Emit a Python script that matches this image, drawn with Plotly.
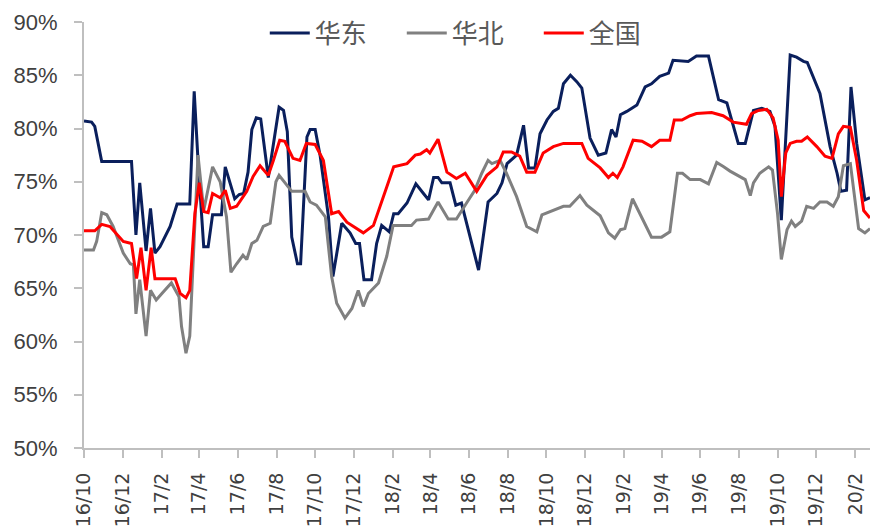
import plotly.graph_objects as go

# 华东 (East China)
east_dates = ["2016-10-01","2016-10-13","2016-10-18","2016-10-29","2016-12-15","2016-12-22","2016-12-28",
"2017-01-07","2017-01-14","2017-01-21","2017-01-29","2017-02-14","2017-02-25","2017-03-17","2017-03-24",
"2017-03-30","2017-04-08","2017-04-15","2017-04-22","2017-05-06","2017-05-12","2017-05-27","2017-06-03",
"2017-06-10","2017-06-17","2017-06-23","2017-06-30","2017-07-07","2017-07-19","2017-08-05","2017-08-12",
"2017-08-18","2017-08-25","2017-09-03","2017-09-08","2017-09-18","2017-09-23","2017-10-01","2017-10-09",
"2017-10-22","2017-10-29","2017-11-12","2017-11-25","2017-12-04","2017-12-10","2017-12-17","2017-12-29",
"2018-01-06","2018-01-14","2018-01-26","2018-02-02","2018-02-09","2018-02-23","2018-03-09","2018-03-21",
"2018-03-29","2018-04-06","2018-04-13","2018-04-19","2018-05-02","2018-05-11","2018-05-20","2018-06-16",
"2018-07-01","2018-07-15","2018-07-23","2018-07-31","2018-08-15","2018-08-26","2018-09-03","2018-09-13",
"2018-09-21","2018-10-02","2018-10-12","2018-10-20","2018-10-28","2018-11-08","2018-11-18","2018-11-26",
"2018-12-09","2018-12-22","2019-01-03","2019-01-12","2019-01-19","2019-01-26","2019-02-05","2019-02-21",
"2019-03-06","2019-03-16","2019-03-29","2019-04-12","2019-04-19","2019-05-13","2019-05-26","2019-06-14",
"2019-06-30","2019-07-13","2019-07-31","2019-08-11","2019-08-24","2019-09-06","2019-09-19","2019-09-27",
"2019-10-07","2019-10-21","2019-10-31","2019-11-11","2019-11-17","2019-12-07","2019-12-23","2020-01-03",
"2020-01-09","2020-01-18","2020-01-25","2020-02-03","2020-02-16","2020-02-24"]
east_values = [80.7,80.6,80.2,76.9,76.9,70.0,74.9,
68.5,72.5,68.3,68.9,70.8,72.9,72.9,83.5,
77.0,68.9,68.9,71.9,71.9,76.4,73.4,73.8,
73.9,75.9,79.9,81.0,80.9,75.4,82.0,81.7,
79.7,69.8,67.3,67.3,79.2,79.9,79.9,77.4,
71.7,66.1,71.1,70.2,69.2,69.2,65.8,65.8,
69.2,70.9,70.3,72.0,72.0,73.0,74.8,73.9,
73.3,75.4,75.4,74.9,74.9,72.8,73.0,66.7,
73.1,73.9,74.9,76.7,77.5,80.3,76.3,76.3,
79.5,80.8,81.6,81.9,84.2,85.0,84.4,83.8,
79.1,77.5,77.7,79.9,79.2,81.3,81.6,82.2,
83.9,84.2,84.9,85.2,86.4,86.3,86.8,86.8,
82.7,82.4,78.6,78.6,81.7,81.9,81.6,80.2,
71.4,86.9,86.7,86.3,86.2,83.3,78.3,75.8,
74.1,74.2,83.9,78.6,73.3,73.5]

# 华北 (North China)
north_dates = ["2016-10-01","2016-10-16","2016-10-21","2016-10-29","2016-11-06","2016-11-16","2016-12-02",
"2016-12-13","2016-12-18","2016-12-22","2016-12-28","2017-01-07","2017-01-14","2017-01-23","2017-02-01",
"2017-02-16","2017-02-28","2017-03-04","2017-03-11","2017-03-17","2017-03-30","2017-04-08","2017-04-22",
"2017-05-04","2017-05-14","2017-05-21","2017-05-30","2017-06-09","2017-06-15","2017-06-23","2017-07-01",
"2017-07-11","2017-07-22","2017-07-31","2017-08-05","2017-08-14","2017-08-25","2017-09-15","2017-09-23",
"2017-10-03","2017-10-17","2017-10-27","2017-11-04","2017-11-17","2017-11-28","2017-12-08","2017-12-16",
"2017-12-24","2018-01-09","2018-01-22","2018-02-01","2018-03-02","2018-03-10","2018-03-29","2018-04-13",
"2018-04-29","2018-05-12","2018-05-28","2018-06-10","2018-06-21","2018-07-01","2018-07-07","2018-07-20",
"2018-07-30","2018-08-15","2018-08-31","2018-09-16","2018-09-24","2018-10-12","2018-10-28","2018-11-07",
"2018-11-23","2018-12-04","2018-12-14","2018-12-25","2019-01-07","2019-01-17","2019-01-26","2019-02-02",
"2019-02-14","2019-02-26","2019-03-16","2019-04-01","2019-04-14","2019-04-26","2019-05-04","2019-05-16",
"2019-06-01","2019-06-14","2019-06-27","2019-07-08","2019-07-18","2019-08-11","2019-08-19","2019-08-24",
"2019-09-03","2019-09-17","2019-09-23","2019-10-01","2019-10-07","2019-10-16","2019-10-23","2019-10-29",
"2019-11-08","2019-11-16","2019-11-27","2019-12-07","2019-12-18","2019-12-28","2020-01-05","2020-01-13",
"2020-01-24","2020-02-06","2020-02-16","2020-02-24"]
north_values = [68.6,68.6,69.4,72.1,71.9,70.8,68.3,
67.3,67.2,62.6,65.8,60.5,64.8,63.9,64.5,
65.5,64.2,61.4,58.9,60.5,77.5,72.3,76.4,
75.0,71.7,66.5,67.3,68.1,67.7,69.2,69.5,
70.8,71.1,75.0,75.6,74.9,74.1,74.1,73.1,
72.8,71.7,66.1,63.6,62.2,63.1,64.8,63.3,
64.5,65.5,68.0,70.9,70.9,71.4,71.5,73.1,
71.5,71.5,73.0,74.2,75.8,77.0,76.7,77.0,
75.8,73.6,70.8,70.3,71.9,72.3,72.7,72.7,
73.7,72.8,72.3,71.8,70.2,69.7,70.5,70.6,
73.4,72.0,69.8,69.8,70.3,75.8,75.8,75.2,
75.2,74.8,76.8,76.4,76.0,75.2,73.7,74.9,
75.8,76.4,76.1,72.0,67.7,70.5,71.3,70.8,
71.3,72.7,72.5,73.1,73.1,72.7,73.6,76.5,
76.7,70.6,70.2,70.6]

# 全国 (National)
nation_dates = ["2016-10-01","2016-10-18","2016-10-29","2016-11-11","2016-12-02","2016-12-15","2016-12-23",
"2016-12-30","2017-01-07","2017-01-15","2017-01-21","2017-02-22","2017-03-02","2017-03-11","2017-03-17",
"2017-03-25","2017-04-01","2017-04-08","2017-04-15","2017-04-22","2017-05-04","2017-05-12","2017-05-20",
"2017-05-30","2017-06-15","2017-06-25","2017-07-06","2017-07-19","2017-07-27","2017-08-06","2017-08-14",
"2017-08-27","2017-09-07","2017-09-17","2017-10-01","2017-10-14","2017-10-27","2017-11-07","2017-11-20",
"2017-12-06","2017-12-16","2018-01-01","2018-01-11","2018-01-22","2018-02-02","2018-02-23","2018-03-08",
"2018-03-16","2018-03-26","2018-03-31","2018-04-13","2018-04-27","2018-05-12","2018-05-26","2018-06-13",
"2018-06-29","2018-07-15","2018-07-25","2018-08-07","2018-08-20","2018-08-31","2018-09-13","2018-09-26",
"2018-10-12","2018-10-28","2018-11-26","2018-12-06","2018-12-25","2019-01-07","2019-01-14","2019-01-21",
"2019-01-30","2019-02-15","2019-03-01","2019-03-16","2019-03-29","2019-04-14","2019-04-21","2019-05-03",
"2019-05-16","2019-05-26","2019-06-19","2019-07-07","2019-07-23","2019-08-13","2019-08-21","2019-09-01",
"2019-09-14","2019-09-24","2019-10-02","2019-10-07","2019-10-14","2019-10-21","2019-10-31","2019-11-08",
"2019-11-17","2019-12-02","2019-12-15","2019-12-26","2020-01-05","2020-01-13","2020-01-24","2020-02-03",
"2020-02-14","2020-02-24"]
nation_values = [70.4,70.4,71.0,70.8,69.4,69.2,65.9,
68.8,64.8,68.8,65.9,65.9,64.5,64.1,64.8,
72.0,74.9,72.2,72.1,73.9,73.5,74.2,72.5,
72.7,74.1,75.5,76.5,75.6,77.0,78.9,78.8,
77.2,77.0,78.6,78.5,77.0,72.0,72.2,71.2,
70.6,70.2,70.9,72.7,74.5,76.4,76.7,77.5,
77.6,78.0,77.7,79.0,75.9,75.3,75.8,74.1,
75.6,76.4,77.8,77.8,77.4,75.9,75.9,77.7,
78.3,78.6,78.6,77.2,76.3,75.4,75.8,75.4,
76.4,78.9,78.8,78.3,78.9,78.9,80.8,80.8,
81.2,81.4,81.5,81.2,80.6,80.4,81.4,81.7,
81.8,81.0,78.9,73.6,77.7,78.6,78.8,78.8,
79.2,78.3,77.4,77.2,79.5,80.2,80.1,77.0,
72.3,71.6]

y_ticks = [50, 55, 60, 65, 70, 75, 80, 85, 90]
y_tick_labels = ["50%", "55%", "60%", "65%", "70%", "75%", "80%", "85%", "90%"]

fig = go.Figure()
fig.add_trace(go.Scatter(x=east_dates, y=east_values, name="华东", mode="lines",
                         line=dict(color="#0A1F5C", width=3)))
fig.add_trace(go.Scatter(x=north_dates, y=north_values, name="华北", mode="lines",
                         line=dict(color="#808080", width=3)))
fig.add_trace(go.Scatter(x=nation_dates, y=nation_values, name="全国", mode="lines",
                         line=dict(color="#FF0000", width=3)))

axis_color = "#BFBFBF"
fig.update_layout(
    width=871, height=529,
    margin=dict(l=84, r=1, t=22, b=81, autoexpand=False),
    paper_bgcolor="white", plot_bgcolor="white",
    showlegend=True,
    legend=dict(orientation="h", x=0.23, y=0.974, xanchor="left", yanchor="middle",
                font=dict(family="Noto Sans CJK SC", size=26, color="#595959"),
                bgcolor="rgba(0,0,0,0)", itemwidth=40, entrywidth=82, entrywidthmode="pixels"),
    xaxis=dict(type="date", range=["2016-10-01", "2020-02-24"], automargin=False,
               tick0="2016-10-01", dtick="M2", tickformat="%y/%-m", tickangle=-90,
               showgrid=False, showline=True, linecolor=axis_color, linewidth=2,
               ticks="outside", ticklen=8, tickcolor=axis_color, tickwidth=2,
               tickfont=dict(family="DejaVu Sans", size=19, color="#404040"),
               ticklabelstandoff=7, zeroline=False),
    yaxis=dict(range=[50, 90], tickmode="array", tickvals=y_ticks, ticktext=y_tick_labels,
               automargin=False,
               showgrid=False, showline=True, linecolor=axis_color, linewidth=2,
               ticks="outside", ticklen=8, tickcolor=axis_color, tickwidth=2,
               tickfont=dict(family="Liberation Sans Narrow, Liberation Sans", size=22, color="#404040"),
               ticklabelstandoff=12, zeroline=False),
)

fig.write_html("out.html", config={"displayModeBar": False},
               post_script="document.body.style.margin='0';document.body.style.overflow='hidden';")
